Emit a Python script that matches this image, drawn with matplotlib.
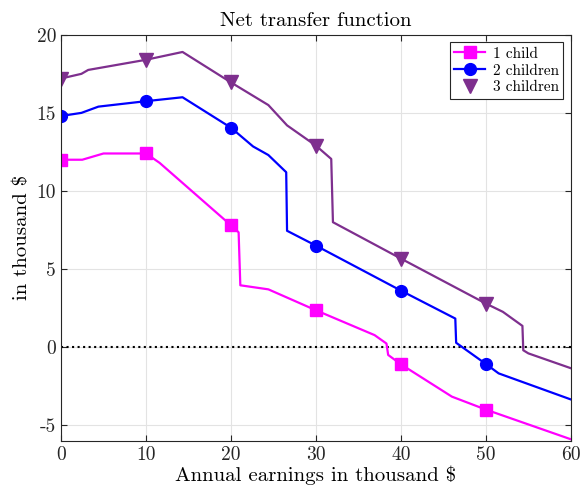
import numpy as np
import matplotlib.pyplot as plt
from matplotlib.lines import Line2D

plt.rcParams['font.family'] = ['cmr10', 'DejaVu Serif']
plt.rcParams['axes.unicode_minus'] = False
plt.rcParams['mathtext.fontset'] = 'cm'

# earnings (thousand $) and net transfer (thousand $) per household type
x_one = [0, 2.5, 5, 10, 11.6, 20, 20.9, 21.1, 24.4, 30, 36.9, 38.3, 38.5, 40, 46, 50, 60]
y_one = [12.0, 12.0, 12.4, 12.4, 11.8, 7.8, 7.35, 3.96, 3.7, 2.36, 0.77, 0.23, -0.5, -1.1, -3.17, -4.0, -5.9]

x_two = [0, 2.4, 4.4, 10, 14.3, 20, 22.6, 24.4, 26.5, 26.6, 30, 40, 46.4, 46.5, 50, 51.5, 60]
y_two = [14.8, 15.0, 15.4, 15.75, 16.0, 14.05, 12.85, 12.3, 11.2, 7.45, 6.5, 3.62, 1.83, 0.28, -1.08, -1.68, -3.35]

x_three = [0, 2.4, 3.2, 10, 14.3, 20, 24.4, 26.6, 30, 31.8, 32.0, 40, 50, 52.0, 54.3, 54.4, 55, 60]
y_three = [17.2, 17.5, 17.75, 18.4, 18.9, 16.95, 15.5, 14.2, 12.9, 12.05, 8.0, 5.67, 2.79, 2.26, 1.36, -0.2, -0.4, -1.35]

marker_x = [0, 10, 20, 30, 40, 50]
labels = ['1 child', '2 children', '3 children']

c_one = '#ff00ff'
c_two = '#0000ff'
c_three = '#7e2f8e'


def marks(xs):
    return [i for i, v in enumerate(xs) if v in marker_x]


fig = plt.figure(figsize=(5.84, 4.97), dpi=100)
ax = fig.add_axes([0.1045, 0.113, 0.873, 0.817])

ax.axhline(0, color='black', ls=':', lw=1.5, zorder=1)
ax.plot(x_one, y_one, color=c_one, lw=1.6, marker='s', ms=8, markevery=marks(x_one))
ax.plot(x_two, y_two, color=c_two, lw=1.6, marker='o', ms=8.5, markevery=marks(x_two))
ax.plot(x_three, y_three, color=c_three, lw=1.6, marker='v', ms=9.5, markevery=marks(x_three))

ax.set_xlim(0, 60)
ax.set_ylim(-6, 20)
ax.set_xticks(np.arange(0, 61, 10))
ax.set_yticks(np.arange(-5, 21, 5))
ax.grid(True, color='#e3e3e3', lw=0.8)
ax.set_axisbelow(True)
ax.tick_params(direction='in', top=True, right=True, labelsize=14, colors='#262626', length=4)
for s in ax.spines.values():
    s.set_color('#262626')
    s.set_linewidth(0.8)

ax.set_title('Net transfer function', fontsize=15, color='black')
ax.set_xlabel('Annual earnings in thousand $', fontsize=15, labelpad=1)
ax.set_ylabel('in thousand $', fontsize=15, labelpad=4)

handles = [
    Line2D([], [], color=c_one, lw=1.6, marker='s', ms=8),
    Line2D([], [], color=c_two, lw=1.6, marker='o', ms=8.5),
    Line2D([], [], color=c_three, lw=0, marker='v', ms=10),
]
leg = ax.legend(handles, labels, loc='upper right', fontsize=11, fancybox=False,
                edgecolor='#262626', framealpha=1, handlelength=2.0, borderpad=0.3,
                labelspacing=0.2, handletextpad=0.5, borderaxespad=0.5)
leg.get_frame().set_linewidth(0.8)

fig.savefig('out.png', dpi=100)
